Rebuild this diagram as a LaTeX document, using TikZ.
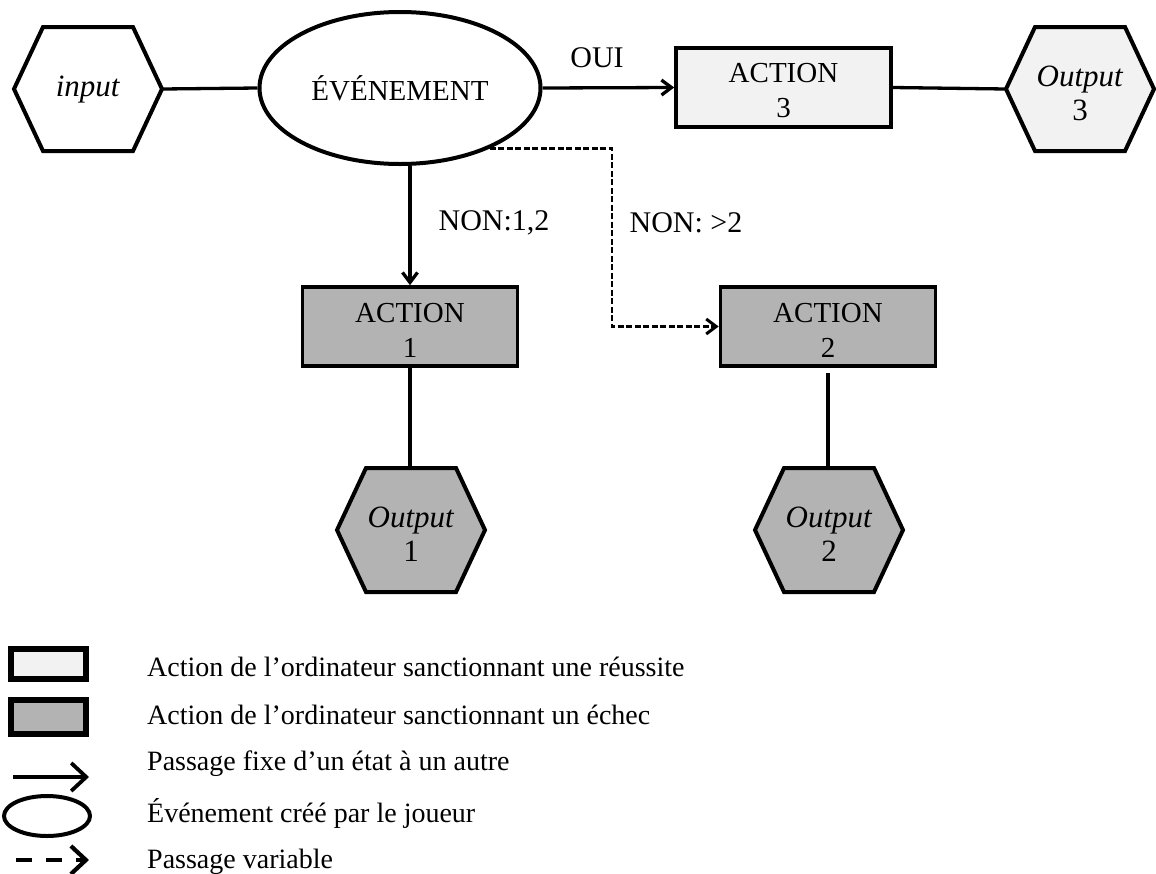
\documentclass[tikz,border=0pt]{standalone}
\usepackage{fontspec}
\setmainfont{Liberation Serif}
\usetikzlibrary{arrows.meta,shapes.geometric,calc}
\definecolor{lightf}{HTML}{F2F2F2}
\definecolor{darkf}{HTML}{B3B3B3}
\newcommand{\hexshape}[3]{\draw[hexline,fill=#3] (#1-74,#2) -- (#1-45,#2-62) -- (#1+45,#2-62) -- (#1+74,#2) -- (#1+45,#2+62) -- (#1-45,#2+62) -- cycle;}
\begin{document}
\begin{tikzpicture}[x=1pt,y=-1pt,
  box/.style={draw,line width=3.6pt,minimum width=215pt,minimum height=79pt,inner sep=0pt},
  boxt/.style={inner sep=0pt,align=center,font=\fontsize{29}{35}\selectfont},
  hexn/.style={minimum width=148pt,minimum height=124pt,inner sep=0pt},
  hext/.style={inner sep=0pt,align=center,font=\fontsize{31}{34}\selectfont},
  hexline/.style={line width=4pt,line join=miter},
  conn/.style={line width=3.3pt},
  arr/.style={conn,-{Straight Barb[length=10pt,width=15pt]}},
  darr/.style={line width=2.6pt,dash pattern=on 6pt off 2.5pt,-{Straight Barb[length=10pt,width=15pt,line width=3pt]}},
  lbl/.style={font=\fontsize{30}{36}\selectfont,inner sep=0pt},
  legt/.style={anchor=west,font=\fontsize{28}{32}\selectfont,inner sep=0pt},
]
\useasboundingbox (0,0) rectangle (1156,873);

% hexagons
\hexshape{88}{89}{white}
\node[hexn] (in) at (88,89) {};
\node[hext] (int) at (88,90) {\textit{input}};
\hexshape{1080}{89}{lightf}
\node[hexn] (o3) at (1080,89) {};
\node[hext] (o3t) at (1080,93) {\textit{Output}\\3};
\hexshape{411}{530}{darkf}
\node[hexn] (o1) at (411,530) {};
\node[hext] (o1t) at (411,534) {\textit{Output}\\1};
\hexshape{829}{530}{darkf}
\node[hexn] (o2) at (829,530) {};
\node[hext] (o2t) at (829,534) {\textit{Output}\\2};

% event
\node[draw,ellipse,line width=4pt,minimum width=281pt,minimum height=152pt,inner sep=0pt,font=\fontsize{29}{35}\selectfont,fill=white] (ev) at (400,88) {ÉVÉNEMENT};

% actions
\node[box,fill=lightf] (a3) at (783.5,87.5) {};
\node[boxt] (a3t) at (783.5,91) {ACTION\\3};
\node[box,fill=darkf] (a1) at (410,326.5) {};
\node[boxt] (a1t) at (410,330) {ACTION\\1};
\node[box,fill=darkf] (a2) at (828,326.5) {};
\node[boxt] (a2t) at (828,330) {ACTION\\2};

% connectors
\draw[conn] (in.east) -- (ev.west);
\draw[arr] (ev.east) -- (a3.west);
\draw[conn] (a3.east) -- (o3.west);
\draw[arr] (ev.south -| a1.north) -- (a1.north);
\coordinate (dk) at (612,0);
\draw[darr] (ev.-34) -- (ev.-34 -| dk) -- (dk |- a2.west) -- (a2.west);
\draw[conn] (a1.south) -- (o1.north -| a1.south);
\draw[conn] ([yshift=-5pt]a2.south) -- (o2.north -| a2.south);

% labels
\node[lbl] (oui) at (597,58) {OUI};
\node[lbl] (n12) at (494,223) {NON:1,2};
\node[lbl] (n2) at (686,223) {NON: >2};

% legend
\draw[line width=6pt,fill=lightf] (11,649) rectangle (86,679);
\draw[line width=6pt,fill=darkf] (11,700) rectangle (86,734);
\coordinate (la0) at (13,777);
\coordinate (la1) at (89,777);
\draw[line width=3.8pt,-{Straight Barb[length=15pt,width=28pt]}] (la0) -- (la1);
\draw[line width=4pt] (47,816) ellipse [x radius=43, y radius=20];
\coordinate (ld0) at (16,860);
\coordinate (ld1) at (89,860);
\draw[line width=4.2pt,dash pattern=on 16pt off 14pt,-{Straight Barb[length=15pt,width=28pt]}] (ld0) -- (ld1);

\node[legt] (t1) at (147,667) {Action de l’ordinateur sanctionnant une réussite};
\node[legt] (t2) at (147,715) {Action de l’ordinateur sanctionnant un échec};
\node[legt] (t3) at (147,764) {Passage fixe d’un état à un autre};
\node[legt] (t4) at (147,813) {Événement créé par le joueur};
\node[legt] (t5) at (147,862) {Passage variable};
\end{tikzpicture}
\end{document}
